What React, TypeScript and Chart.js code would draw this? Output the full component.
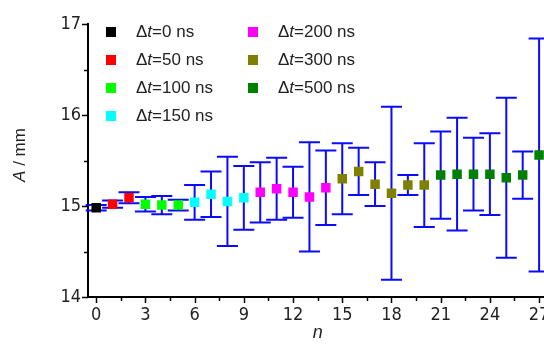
import React, { useEffect, useRef } from 'react';
import { Chart, registerables } from 'chart.js';

Chart.register(...registerables);

// ---- data ----
const nValues = [0, 1, 2, 3, 4, 5, 6, 7, 8, 9, 10, 11, 12, 13, 14, 15, 16, 17, 18, 19, 20, 21, 22, 23, 24, 25, 26, 27];
const amplitude = [14.98, 15.02, 15.09, 15.02, 15.01, 15.01, 15.04, 15.13, 15.05, 15.09, 15.15, 15.19, 15.15, 15.1, 15.2, 15.3, 15.38, 15.24, 15.14, 15.23, 15.23, 15.34, 15.35, 15.35, 15.35, 15.31, 15.34, 15.56];
const amplitudeError = [0.03, 0.04, 0.06, 0.08, 0.1, 0.06, 0.19, 0.25, 0.49, 0.35, 0.33, 0.34, 0.28, 0.6, 0.41, 0.39, 0.26, 0.24, 0.95, 0.11, 0.46, 0.48, 0.62, 0.4, 0.45, 0.88, 0.26, 1.28];
const groupDelays = ['0', '50', '100', '150', '200', '300', '500'];
const groupSizes = [1, 2, 3, 4, 5, 6, 7];
const groupColors = ['#000000', '#ff0000', '#00ff00', '#00ffff', '#ff00ff', '#808000', '#008000'];
const xTickValues = [0, 1.5, 3, 4.5, 6, 7.5, 9, 10.5, 12, 13.5, 15, 16.5, 18, 19.5, 21, 22.5, 24, 25.5, 27];
const yTickValues = [14, 14.5, 15, 15.5, 16, 16.5, 17];

const FONT = "'Liberation Sans', Arial, sans-serif";
const TICK_FONT = "'DejaVu Sans Condensed', 'Liberation Sans Narrow', 'Liberation Sans', Arial, sans-serif";
const TEXT = '#222222';
const ERR_COLOR = '#0a0aff';

function buildDatasets() {
  const sets: any[] = [];
  let start = 0;
  groupSizes.forEach((size, g) => {
    const pts = [];
    for (let i = start; i < start + size; i++) {
      pts.push({ x: nValues[i], y: amplitude[i], e: amplitudeError[i] });
    }
    start += size;
    sets.push({
      label: groupDelays[g],
      data: pts,
      backgroundColor: groupColors[g],
      borderColor: groupColors[g],
      borderWidth: 0,
      pointStyle: 'rect',
      pointRadius: 6.7,
      pointHoverRadius: 6.7,
      showLine: false,
    });
  });
  return sets;
}

function drawDeltaT(ctx: CanvasRenderingContext2D, x: number, y: number, delay: string, size: number) {
  ctx.textBaseline = 'middle';
  ctx.textAlign = 'left';
  ctx.font = `${size}px ${FONT}`;
  ctx.fillText('\u0394', x, y);
  let cx = x + ctx.measureText('\u0394').width;
  ctx.font = `italic ${size}px ${FONT}`;
  ctx.fillText('t', cx, y);
  cx += ctx.measureText('t').width;
  ctx.font = `${size}px ${FONT}`;
  ctx.fillText(`=${delay} ns`, cx, y);
}

const decorPlugin = {
  id: 'decor',
  beforeDatasetsDraw(chart: any) {
    const ctx = chart.ctx as CanvasRenderingContext2D;
    const xs = chart.scales.x;
    const ys = chart.scales.y;
    ctx.save();
    ctx.strokeStyle = ERR_COLOR;
    ctx.lineWidth = 2;
    const cap = 10.5;
    chart.data.datasets.forEach((ds: any) => {
      ds.data.forEach((p: any) => {
        const px = xs.getPixelForValue(p.x);
        const top = ys.getPixelForValue(p.y + p.e);
        const bot = ys.getPixelForValue(p.y - p.e);
        ctx.beginPath();
        ctx.moveTo(px, top);
        ctx.lineTo(px, bot);
        ctx.moveTo(px - cap, top);
        ctx.lineTo(px + cap, top);
        ctx.moveTo(px - cap, bot);
        ctx.lineTo(px + cap, bot);
        ctx.stroke();
      });
    });
    ctx.restore();
  },
  afterDraw(chart: any) {
    const ctx = chart.ctx as CanvasRenderingContext2D;
    const xs = chart.scales.x;
    const ys = chart.scales.y;
    const area = chart.chartArea;
    ctx.save();
    // tick marks
    ctx.strokeStyle = '#000000';
    ctx.lineWidth = 1.5;
    xTickValues.forEach((v) => {
      const px = Math.round(xs.getPixelForValue(v)) + 0.5;
      const len = v % 3 === 0 ? 6 : 4;
      ctx.beginPath();
      ctx.moveTo(px, area.bottom);
      ctx.lineTo(px, area.bottom + len);
      ctx.stroke();
    });
    yTickValues.forEach((v) => {
      const py = Math.round(ys.getPixelForValue(v)) + 0.5;
      const len = Number.isInteger(v) ? 6 : 4;
      ctx.beginPath();
      ctx.moveTo(area.left, py);
      ctx.lineTo(area.left - len, py);
      ctx.stroke();
    });
    // legend
    chart.data.datasets.forEach((ds: any, i: number) => {
      const col = i < 4 ? 0 : 1;
      const row = i < 4 ? i : i - 4;
      const sx = area.left + 23 + col * 142;
      const sy = area.top + 8 + row * 28;
      ctx.fillStyle = ds.backgroundColor;
      ctx.fillRect(sx - 5, sy - 5, 10, 10);
      ctx.fillStyle = TEXT;
      drawDeltaT(ctx, sx + 25, sy, ds.label, 17);
    });
    // axis titles
    ctx.fillStyle = TEXT;
    ctx.font = `italic 18px ${FONT}`;
    ctx.textAlign = 'center';
    ctx.textBaseline = 'middle';
    ctx.fillText('n', (area.left + area.right) / 2, 333);
    ctx.translate(20, 155);
    ctx.rotate(-Math.PI / 2);
    ctx.textAlign = 'left';
    ctx.font = `italic 17px ${FONT}`;
    const aW = ctx.measureText('A').width;
    ctx.font = `17px ${FONT}`;
    const restW = ctx.measureText(' / mm').width;
    const x0 = -(aW + restW) / 2;
    ctx.font = `italic 17px ${FONT}`;
    ctx.fillText('A', x0, 0);
    ctx.font = `17px ${FONT}`;
    ctx.fillText(' / mm', x0 + aW, 0);
    ctx.restore();
  },
};

export default function App() {
  const ref = useRef<HTMLCanvasElement>(null);
  useEffect(() => {
    if (!ref.current) return;
    const chart = new Chart(ref.current, {
      type: 'scatter',
      data: { datasets: buildDatasets() },
      options: {
        responsive: false,
        animation: false,
        devicePixelRatio: 1,
        layout: { padding: { top: 24, right: 3, left: 0, bottom: 0 } },
        plugins: { legend: { display: false }, tooltip: { enabled: false } },
        scales: {
          x: {
            type: 'linear',
            min: -0.5,
            max: 27.5,
            afterBuildTicks: (s: any) => {
              s.ticks = xTickValues.map((v) => ({ value: v }));
            },
            afterFit: (s: any) => {
              s.height = 48;
              s.paddingLeft = 0;
              s.paddingRight = 0;
            },
            grid: { display: false, drawTicks: true, tickLength: 6 },
            border: { display: true, color: '#000000', width: 2 },
            ticks: {
              autoSkip: false,
              maxRotation: 0,
              padding: 2,
              color: TEXT,
              font: { family: TICK_FONT, size: 18 },
              callback: (v: any) => (Number(v) % 3 === 0 ? String(v) : ''),
            },
          },
          y: {
            type: 'linear',
            min: 14,
            max: 17,
            afterBuildTicks: (s: any) => {
              s.ticks = yTickValues.map((v) => ({ value: v }));
            },
            afterFit: (s: any) => {
              s.width = 88;
              s.paddingTop = 0;
              s.paddingBottom = 0;
            },
            grid: { display: false, drawTicks: true, tickLength: 6 },
            border: { display: true, color: '#000000', width: 2 },
            ticks: {
              autoSkip: false,
              padding: 1,
              color: TEXT,
              font: { family: TICK_FONT, size: 18 },
              callback: (v: any) => (Number.isInteger(Number(v)) ? String(v) : ''),
            },
          },
        },
      },
      plugins: [decorPlugin],
    });
    return () => chart.destroy();
  }, []);
  return (
    <div style={{ position: 'fixed', left: 0, top: 0, width: 544, height: 345, overflow: 'hidden', background: '#ffffff' }}>
      <canvas ref={ref} width={554} height={345} style={{ width: 554, height: 345, display: 'block' }} />
    </div>
  );
}
